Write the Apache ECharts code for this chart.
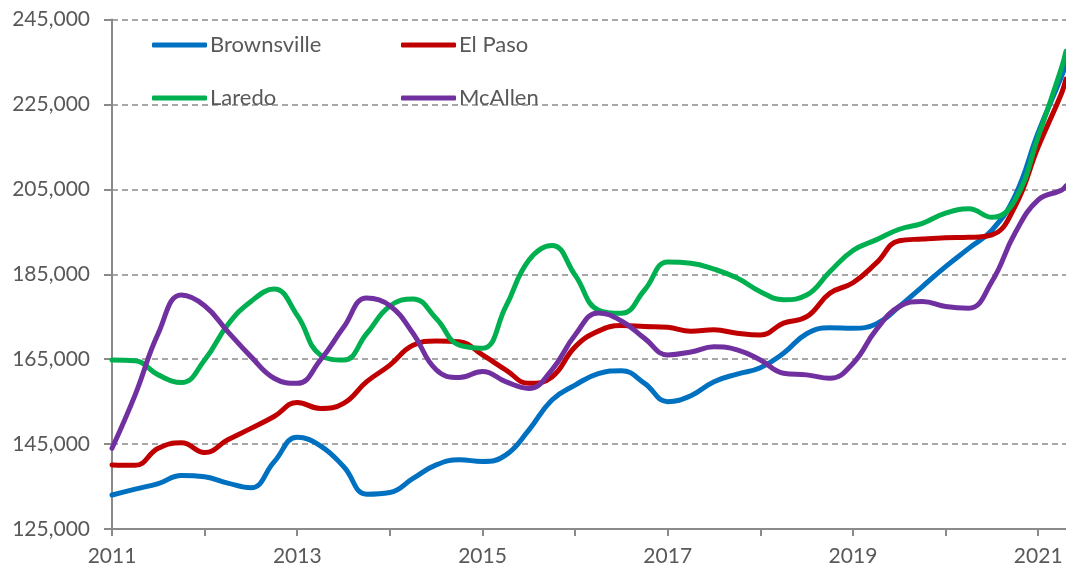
<!DOCTYPE html>
<html>
<head>
<meta charset="utf-8">
<script src="https://cdn.jsdelivr.net/npm/echarts@6/dist/echarts.min.js"></script>
<style>
  html, body { margin: 0; padding: 0; background: #fff; }
  #chart { width: 1066px; height: 573px; }
</style>
</head>
<body>
<div id="chart"></div>
<script>
// quarter positions (decimal years); last point is the latest reading at the axis end
const periods = [
  2011.00, 2011.25, 2011.50, 2011.75, 2012.00, 2012.25, 2012.50, 2012.75,
  2013.00, 2013.25, 2013.50, 2013.75, 2014.00, 2014.25, 2014.50, 2014.75,
  2015.00, 2015.25, 2015.50, 2015.75, 2016.00, 2016.25, 2016.50, 2016.75,
  2017.00, 2017.25, 2017.50, 2017.75, 2018.00, 2018.25, 2018.50, 2018.75,
  2019.00, 2019.25, 2019.50, 2019.75, 2020.00, 2020.25, 2020.50, 2020.75,
  2021.00, 2021.25, 2021.30
];

const brownsville = [
  133000, 134400, 135700, 137600, 137300, 135800, 134700, 140800,
  146600, 144600, 139700, 133200, 133600, 136900, 140100, 141300,
  140900, 142400, 148300, 155400, 158900, 161600, 162300, 159300,
  155000, 156400, 159700, 161500, 163000, 166400, 171000, 172400,
  172300, 173300, 177400, 182100, 186800, 191100, 195400, 203500,
  218400, 231500, 234500
];

const elPaso = [
  140100, 140000, 144000, 145300, 143000, 146000, 148700, 151500,
  154800, 153400, 154600, 159700, 163600, 168300, 169300, 169100,
  166000, 162500, 159300, 160800, 167900, 171600, 172900, 172700,
  172500, 171600, 171900, 171100, 170700, 173500, 175000, 180500,
  183000, 187600, 192900, 193300, 193600, 193700, 194300, 201000,
  215000, 227500, 231000
];

const laredo = [
  164800, 164600, 161300, 159500, 164800, 173100, 178600, 181500,
  175300, 166000, 164800, 171000, 177500, 179200, 174600, 168300,
  167600, 177300, 188300, 191800, 184800, 176600, 175800, 181300,
  187900, 187600, 186200, 184100, 180900, 179000, 180100, 185600,
  190600, 193100, 195600, 197000, 199400, 200400, 198400, 202500,
  217400, 233500, 237500
];

const mcAllen = [
  144000, 156600, 171100, 180100, 177600, 171500, 165600, 160500,
  159300, 164800, 172500, 179400, 177600, 171100, 162500, 160700,
  162100, 159700, 158100, 162500, 170700, 175900, 174000, 169900,
  166000, 166700, 167900, 167200, 164800, 161700, 161300, 160500,
  164000, 171900, 177400, 178600, 177400, 177000, 183300, 194700,
  202500, 204800, 205800
];

const yTicks = { min: 125000, max: 245000, step: 20000 };

const seriesDefs = [
  { name: 'Brownsville', color: '#0070C0', values: brownsville },
  { name: 'El Paso', color: '#C00000', values: elPaso },
  { name: 'Laredo', color: '#00B050', values: laredo },
  { name: 'McAllen', color: '#7030A0', values: mcAllen }
];

const textColor = '#595959';
const axisColor = '#8a8a8a';
const font = 'Lato, "Open Sans", sans-serif';

const chart = echarts.init(document.getElementById('chart'));

const legendBase = {
  orient: 'vertical',
  top: 29,
  icon: 'roundRect',
  itemWidth: 55,
  itemHeight: 5,
  itemGap: 31,
  textStyle: { color: textColor, fontSize: 22, fontFamily: font, padding: [0, 0, 0, -2] }
};

const option = {
  animation: false,
  backgroundColor: '#fff',
  grid: { left: 112, right: 0, top: 19.5, bottom: 44 },
  legend: [
    Object.assign({}, legendBase, { left: 147, data: ['Brownsville', 'Laredo'] }),
    Object.assign({}, legendBase, { left: 396, data: ['El Paso', 'McAllen'] })
  ],
  xAxis: {
    type: 'value',
    min: 2011,
    max: 2021.3,
    interval: 1,
    axisLine: { show: true, lineStyle: { color: axisColor, width: 2 } },
    axisTick: { show: true, inside: false, length: 7, lineStyle: { color: axisColor, width: 2 } },
    splitLine: { show: false },
    axisLabel: {
      color: textColor,
      fontSize: 21,
      fontFamily: font,
      margin: 17,
      showMaxLabel: false,
      formatter: v => (Number.isInteger(v) && v % 2 === 1) ? String(v) : ''
    }
  },
  yAxis: {
    type: 'value',
    min: yTicks.min,
    max: yTicks.max,
    interval: yTicks.step,
    axisLine: { show: true, lineStyle: { color: axisColor, width: 2 } },
    axisTick: { show: true, length: 8, lineStyle: { color: axisColor, width: 2 } },
    splitLine: { show: true, lineStyle: { color: axisColor, width: 1.5, type: [6, 4] } },
    axisLabel: {
      color: textColor,
      fontSize: 21,
      fontFamily: font,
      margin: 22,
      formatter: v => v.toLocaleString('en-US')
    }
  },
  series: seriesDefs.map(s => ({
    name: s.name,
    type: 'line',
    smooth: 0.45,
    showSymbol: false,
    symbol: 'none',
    color: s.color,
    lineStyle: { color: s.color, width: 5, cap: 'round' },
    data: periods.map((p, i) => [p, s.values[i]])
  }))
};

chart.setOption(option);
</script>
</body>
</html>
